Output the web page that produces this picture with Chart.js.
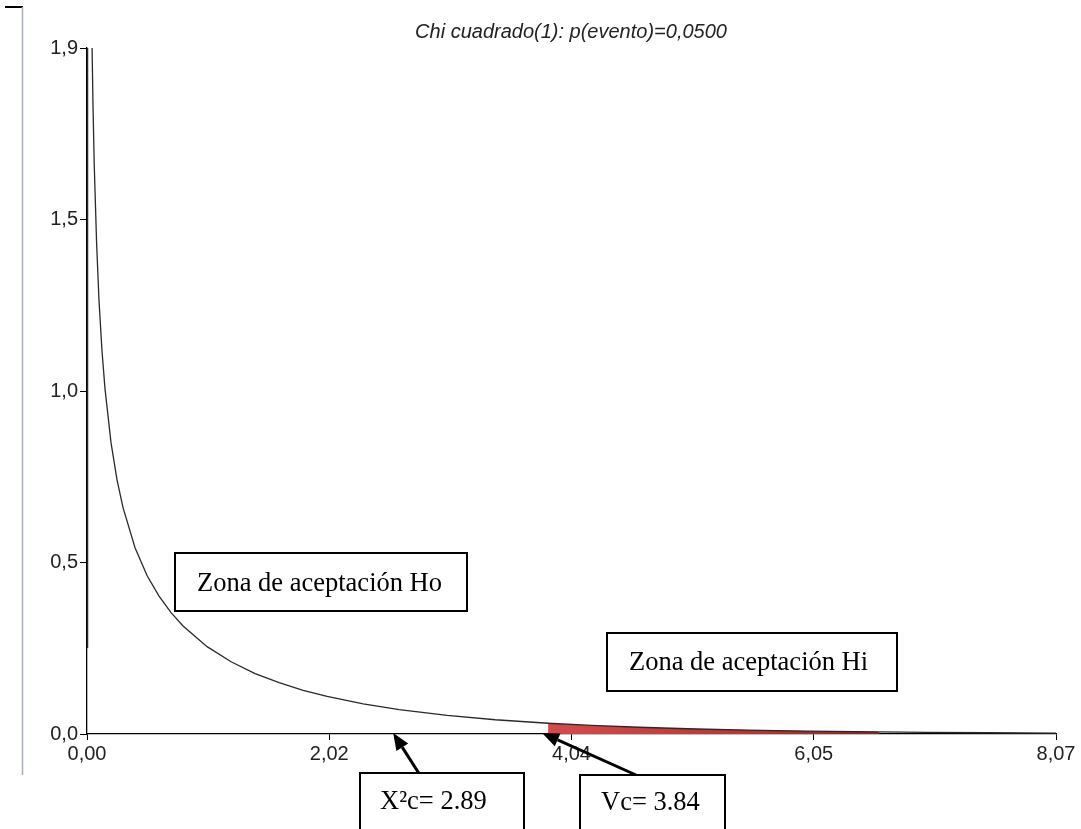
<!DOCTYPE html>
<html>
<head>
<meta charset="utf-8">
<script src="https://cdn.jsdelivr.net/npm/chart.js@4"></script>
<style>
  html, body { margin: 0; padding: 0; background: #fff; }
  #wrap { position: relative; width: 1081px; height: 829px; }
  canvas { position: absolute; left: 0; top: 0; }
</style>
</head>
<body>
<div id="wrap"><canvas id="chiChart" width="1081" height="829"></canvas></div>
<script>
// density curve
const curveX = [0, 0.005, 0.01, 0.02, 0.03, 0.04, 0.05, 0.06, 0.08, 0.1, 0.125, 0.15, 0.2, 0.25, 0.3,
  0.4, 0.5, 0.6, 0.7, 0.8, 1.0, 1.2, 1.4, 1.6, 1.8, 2.0, 2.3, 2.6, 3.0, 3.4, 3.84, 4.2, 4.6, 5.0,
  5.5, 6.0, 6.6, 7.0, 7.5, 8.07];
const curveY = [0.24, 5.63, 3.97, 2.79, 2.27, 1.95, 1.74, 1.58, 1.36, 1.2, 1.06, 0.956, 0.807, 0.704, 0.627,
  0.516, 0.439, 0.382, 0.336, 0.299, 0.242, 0.2, 0.167, 0.142, 0.121, 0.104, 0.0833, 0.0674, 0.0514, 0.0395,
  0.0298, 0.0238, 0.0187, 0.0146, 0.0109, 0.0081, 0.0057, 0.0046, 0.0034, 0.0025];

// shaded rejection tail
const tailFrom = 3.84;
const tailTo = 6.6;

const xTicks = [0, 2.0175, 4.035, 6.0525, 8.07];
const xTickLabels = ["0,00", "2,02", "4,04", "6,05", "8,07"];
const yTicks = [0, 0.475, 0.95, 1.425, 1.9];
const yTickLabels = ["0,0", "0,5", "1,0", "1,5", "1,9"];

const titleText = "Chi cuadrado(1): p(evento)=0,0500";

// text boxes drawn over the chart
const notes = [
  { text: "Zona de aceptación Ho", box: [175, 553, 292, 58], tx: 197, ty: 591 },
  { text: "Zona de aceptación Hi", box: [607, 633, 290, 58], tx: 629, ty: 670 },
  { text: "X\u00b2c= 2.89", box: [360, 773, 164, 70], tx: 380, ty: 809 },
  { text: "Vc= 3.84", box: [580, 775, 145, 70], tx: 601, ty: 810 }
];
const arrows = [
  { from: [420, 775], toX: 2.55 },
  { from: [636, 775], toX: 3.79 }
];

const curvePoints = curveX.map((x, i) => ({ x: x, y: curveY[i] }));
const tailPoints = curvePoints.filter(p => p.x >= tailFrom && p.x <= tailTo);

const tickFont = { family: '"Liberation Sans", Arial, sans-serif', size: 20 };

const extras = {
  id: "extras",
  beforeDraw(chart) {
    const c = chart.ctx;
    c.save();
    c.strokeStyle = "#000";
    c.lineWidth = 2;
    c.beginPath();
    c.moveTo(5, 7);
    c.lineTo(23, 7);
    c.stroke();
    c.strokeStyle = "#a8b0bc";
    c.lineWidth = 1.5;
    c.beginPath();
    c.moveTo(22.5, 7);
    c.lineTo(22.5, 775);
    c.stroke();
    c.restore();
  },
  afterDraw(chart) {
    const c = chart.ctx;
    const xs = chart.scales.x, ys = chart.scales.y;
    c.save();
    c.fillStyle = "#222";
    c.font = 'italic 20px "Liberation Sans", Arial, sans-serif';
    c.textAlign = "center";
    c.textBaseline = "middle";
    c.fillText(titleText, 571, 32);

    // arrows
    arrows.forEach(a => {
      const tx = xs.getPixelForValue(a.toX);
      const ty = ys.getPixelForValue(0) - 1;
      const ang = Math.atan2(ty - a.from[1], tx - a.from[0]);
      const len = 17, hw = 7;
      const bx = tx - len * Math.cos(ang), by = ty - len * Math.sin(ang);
      c.strokeStyle = "#000";
      c.lineWidth = 3;
      c.beginPath();
      c.moveTo(a.from[0], a.from[1]);
      c.lineTo(bx, by);
      c.stroke();
      c.fillStyle = "#000";
      c.beginPath();
      c.moveTo(tx, ty);
      c.lineTo(bx + hw * Math.sin(ang), by - hw * Math.cos(ang));
      c.lineTo(bx - hw * Math.sin(ang), by + hw * Math.cos(ang));
      c.closePath();
      c.fill();
    });

    // boxes
    c.font = '26.5px "Liberation Serif", "Times New Roman", serif';
    c.textAlign = "left";
    c.textBaseline = "alphabetic";
    notes.forEach(n => {
      const [x, y, w, h] = n.box;
      c.fillStyle = "#fff";
      c.fillRect(x, y, w, h);
      c.strokeStyle = "#000";
      c.lineWidth = 2;
      c.strokeRect(x, y, w, h);
      c.fillStyle = "#000";
      c.fillText(n.text, n.tx, n.ty);
    });
    c.restore();
  }
};

const ctx = document.getElementById("chiChart").getContext("2d");
const chiChart = new Chart(ctx, {
  type: "line",
  data: {
    datasets: [
      {
        label: "Chi cuadrado(1)",
        data: curvePoints,
        borderColor: "#2a2a2a",
        borderWidth: 1.3,
        pointRadius: 0,
        tension: 0,
        fill: false
      },
      {
        label: "Cola",
        data: tailPoints,
        borderWidth: 0,
        pointRadius: 0,
        tension: 0,
        fill: "origin",
        backgroundColor: function (context) {
          const chart = context.chart;
          if (!chart.chartArea) return "#c84040";
          const xs = chart.scales.x;
          const g = chart.ctx.createLinearGradient(xs.getPixelForValue(tailFrom), 0, xs.getPixelForValue(tailTo), 0);
          g.addColorStop(0, "#d64a4a");
          g.addColorStop(0.6, "#b83636");
          g.addColorStop(1, "#8c2424");
          return g;
        }
      }
    ]
  },
  options: {
    responsive: false,
    animation: false,
    devicePixelRatio: 1,
    layout: { padding: { left: 27, right: 25, top: 48, bottom: 65 } },
    plugins: {
      legend: { display: false },
      tooltip: { enabled: false },
      title: { display: false }
    },
    scales: {
      x: {
        type: "linear",
        min: 0,
        max: 8.07,
        afterBuildTicks: scale => { scale.ticks = xTicks.map(v => ({ value: v })); },
        afterFit: scale => { scale.height = 30; },
        ticks: {
          autoSkip: false,
          maxRotation: 0,
          padding: 2,
          color: "#222",
          font: tickFont,
          callback: (value, index) => xTickLabels[index]
        },
        grid: { drawOnChartArea: false, drawTicks: true, tickLength: 6, color: "#000" },
        border: { display: true, color: "#000", width: 1.3 }
      },
      y: {
        type: "linear",
        min: 0,
        max: 1.9,
        afterBuildTicks: scale => { scale.ticks = yTicks.map(v => ({ value: v })); },
        afterFit: scale => { scale.width = 60; },
        ticks: {
          autoSkip: false,
          padding: 2,
          color: "#222",
          font: tickFont,
          callback: (value, index) => yTickLabels[index]
        },
        grid: { drawOnChartArea: false, drawTicks: true, tickLength: 7, color: "#000" },
        border: { display: true, color: "#000", width: 1.3 }
      }
    }
  },
  plugins: [extras]
});
</script>
</body>
</html>
